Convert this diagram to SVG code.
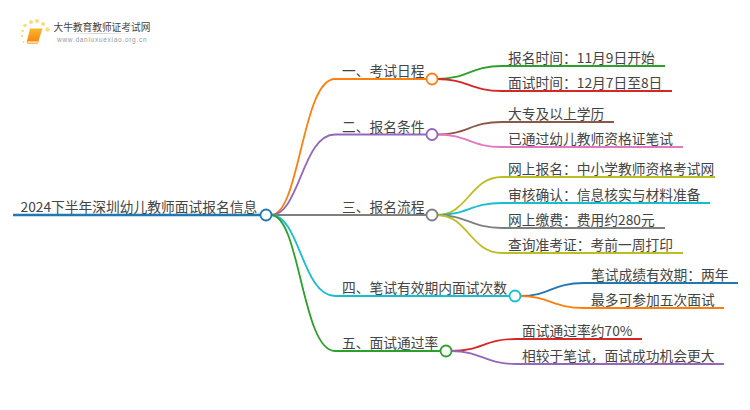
<svg xmlns="http://www.w3.org/2000/svg" width="750" height="410" viewBox="0 0 750 410">
<style>
text{font-family:"Noto Sans CJK SC","Liberation Sans",sans-serif;fill:#444}
.t{font-size:13.750px}
.c{fill:none;stroke-width:1.800}
.n{fill:#fff;stroke-width:1.800}
</style>
<defs>
<linearGradient id="sh" x1="0" x2="1"><stop offset="0" stop-color="#ddd" stop-opacity="0"/><stop offset=".5" stop-color="#ccc"/><stop offset="1" stop-color="#ddd" stop-opacity="0"/></linearGradient>
<linearGradient id="bk" x1="0" y1="0" x2="0" y2="1"><stop offset="0" stop-color="#fbb62e"/><stop offset="1" stop-color="#f58a10"/></linearGradient>
</defs>
<rect width="750" height="410" fill="#fff"/>
<g id="logo">
<g fill="#fcdc80"><circle cx="22.500" cy="31" r="1.300"/><circle cx="25" cy="25.500" r="1.800"/><circle cx="31" cy="22" r="2"/><circle cx="37" cy="21" r="2"/><circle cx="43" cy="24" r="2"/><circle cx="47.500" cy="29.500" r="2.200"/><circle cx="22" cy="36" r="1.200"/><circle cx="23.500" cy="42" r="1"/></g>
<path d="M30 28.500H42.500L38.500 41H27Z" fill="url(#bk)"/><path d="M27 41H38.500L37.500 43.500H27.500Z" fill="#fbd9a8" stroke="#f59a16" stroke-width=".6"/>
<text x="53.500" y="30.500" style="font-size:9.700px;fill:#444">大牛教育教师证考试网</text>
<rect x="62" y="33" width="75" height="1" fill="url(#sh)"/>
<text x="57" y="41.500" style="font-family:'Liberation Sans',sans-serif;font-size:6.500px;letter-spacing:.72px;fill:#999">www.daniuxuexiao.org.cn</text>
</g>
<g id="connectors">
<path class="c" stroke="#ff7f0e" d="M271 215C300 215 302 79 335 79H427"/>
<path class="c" stroke="#9467bd" d="M271 215C300 215 302 134.500 335 134.500H427"/>
<path class="c" stroke="#7f7f7f" d="M271 215H427"/>
<path class="c" stroke="#17becf" d="M271 215C300 215 302 296 335 296H510"/>
<path class="c" stroke="#2ca02c" d="M271 215C300 215 302 351 335 351H441"/>
<path stroke="#1f77b4" stroke-width="2.400" fill="none" d="M13 215H261"/>
<path class="c" stroke="#2ca02c" d="M437 79C468 79 470 66 502 66H665"/>
<path class="c" stroke="#d62728" d="M437 79C468 79 470 91 502 91H672"/>
<path class="c" stroke="#8c564b" d="M437 134.500C468 134.500 470 122 502 122H614"/>
<path class="c" stroke="#e377c2" d="M437 134.500C468 134.500 470 147 502 147H683"/>
<path class="c" stroke="#bcbd22" d="M437 215C468 215 470 177 502 177H715"/>
<path class="c" stroke="#17becf" d="M437 215C468 215 470 203 502 203H710"/>
<path class="c" stroke="#7f7f7f" d="M437 215C468 215 470 228 502 228H665"/>
<path class="c" stroke="#bcbd22" d="M437 215C468 215 470 253 502 253H683"/>
<path class="c" stroke="#1f77b4" d="M520 296C550 296 552 283 584 283H738"/>
<path class="c" stroke="#ff7f0e" d="M520 296C550 296 552 308 584 308H724"/>
<path class="c" stroke="#d62728" d="M451 351C482 351 484 339 516 339H642"/>
<path class="c" stroke="#9467bd" d="M451 351C482 351 484 364 516 364H724"/>
</g>
<g id="root"><circle class="n" stroke="#1f77b4" cx="266" cy="215" r="5.500"/><text class="t" x="20.500" y="212">2024下半年深圳幼儿教师面试报名信息</text></g>
<g id="b1"><circle class="n" stroke="#ff7f0e" cx="432" cy="79" r="5.500"/><text class="t" x="342" y="76">一、考试日程</text></g>
<g id="b2"><circle class="n" stroke="#9467bd" cx="432" cy="134.500" r="5.500"/><text class="t" x="342" y="131.500">二、报名条件</text></g>
<g id="b3"><circle class="n" stroke="#7f7f7f" cx="432" cy="215" r="5.500"/><text class="t" x="342" y="212">三、报名流程</text></g>
<g id="b4"><circle class="n" stroke="#17becf" cx="515" cy="296" r="5.500"/><text class="t" x="342" y="293">四、笔试有效期内面试次数</text></g>
<g id="b5"><circle class="n" stroke="#2ca02c" cx="446" cy="351" r="5.500"/><text class="t" x="342" y="348">五、面试通过率</text></g>
<g id="l11"><text class="t" x="508" y="63">报名时间：11月9日开始</text></g>
<g id="l12"><text class="t" x="508" y="88">面试时间：12月7日至8日</text></g>
<g id="l21"><text class="t" x="508" y="119">大专及以上学历</text></g>
<g id="l22"><text class="t" x="508" y="144">已通过幼儿教师资格证笔试</text></g>
<g id="l31"><text class="t" x="508" y="174">网上报名：中小学教师资格考试网</text></g>
<g id="l32"><text class="t" x="508" y="200">审核确认：信息核实与材料准备</text></g>
<g id="l33"><text class="t" x="508" y="225">网上缴费：费用约280元</text></g>
<g id="l34"><text class="t" x="508" y="250">查询准考证：考前一周打印</text></g>
<g id="l41"><text class="t" x="591" y="280">笔试成绩有效期：两年</text></g>
<g id="l42"><text class="t" x="591" y="305">最多可参加五次面试</text></g>
<g id="l51"><text class="t" x="522" y="336">面试通过率约70%</text></g>
<g id="l52"><text class="t" x="522" y="361">相较于笔试，面试成功机会更大</text></g>
</svg>
